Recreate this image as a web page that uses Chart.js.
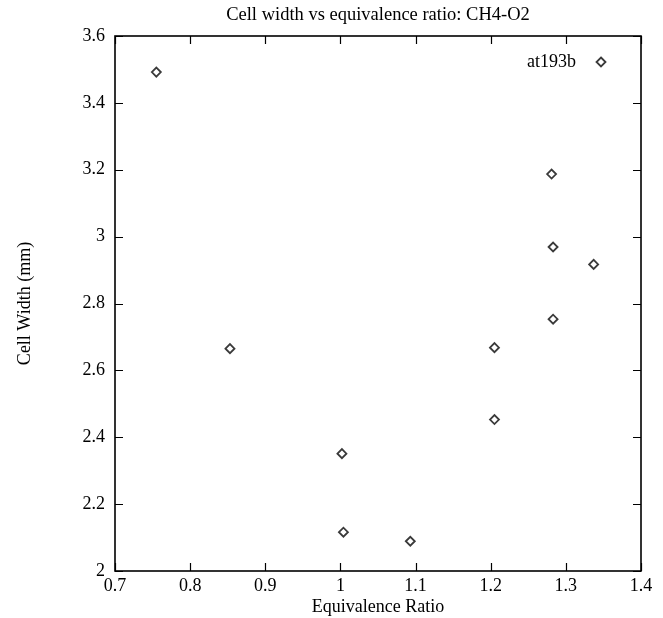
<!DOCTYPE html>
<html>
<head>
<meta charset="utf-8">
<title>Cell width vs equivalence ratio: CH4-O2</title>
<script src="https://cdn.jsdelivr.net/npm/chart.js@4/dist/chart.umd.min.js"></script>
<style>
    html, body { margin: 0; padding: 0; background: #fff; }
    #wrap { width: 663px; height: 618px; }
</style>
</head>
<body>
<div id="wrap"><canvas id="cellChart" width="663" height="618"></canvas></div>
<script>
const equivalenceRatio = [0.755, 0.853, 1.002, 1.004, 1.093, 1.205, 1.205, 1.281, 1.283, 1.283, 1.337];
const cellWidth = [3.492, 2.665, 2.351, 2.116, 2.089, 2.668, 2.453, 3.187, 2.969, 2.753, 2.917];
const seriesName = 'at193b';
const chartTitle = 'Cell width vs equivalence ratio: CH4-O2';
const xTicks = [0.7, 0.8, 0.9, 1.0, 1.1, 1.2, 1.3, 1.4];
const yTicks = [2.0, 2.2, 2.4, 2.6, 2.8, 3.0, 3.2, 3.4, 3.6];

const serif = '"Liberation Serif", "Times New Roman", serif';
const ink = '#000';
const markColor = '#3a3a3a';

function fmt(v) {
    return String(Math.round(v * 10) / 10);
}

// title centred over the plot box, like gnuplot does
const titlePlugin = {
    id: 'boxTitle',
    afterDraw(chart) {
        const { ctx, chartArea: a } = chart;
        ctx.save();
        ctx.font = '18.5px ' + serif;
        ctx.fillStyle = ink;
        ctx.textAlign = 'center';
        ctx.textBaseline = 'middle';
        ctx.fillText(chartTitle, (a.left + a.right) / 2, 15);
        ctx.restore();
    }
};

// gnuplot-like box with inward tick marks on all four sides
const framePlugin = {
    id: 'frame',
    beforeDatasetsDraw(chart) {
        const { ctx, chartArea: a, scales } = chart;
        const len = 8;
        ctx.save();
        ctx.strokeStyle = ink;
        ctx.lineWidth = 1.2;
        xTicks.forEach(function (v) {
            const px = Math.round(scales.x.getPixelForValue(v)) + 0.5;
            ctx.beginPath();
            ctx.moveTo(px, a.bottom); ctx.lineTo(px, a.bottom - len);
            ctx.moveTo(px, a.top); ctx.lineTo(px, a.top + len);
            ctx.stroke();
        });
        yTicks.forEach(function (v) {
            const py = Math.round(scales.y.getPixelForValue(v)) + 0.5;
            ctx.beginPath();
            ctx.moveTo(a.left, py); ctx.lineTo(a.left + len, py);
            ctx.moveTo(a.right, py); ctx.lineTo(a.right - len, py);
            ctx.stroke();
        });
        ctx.lineWidth = 1.6;
        ctx.strokeRect(a.left, a.top, a.right - a.left, a.bottom - a.top);
        ctx.restore();
    }
};

// key drawn inside the top right corner: label then marker
const keyPlugin = {
    id: 'key',
    afterDatasetsDraw(chart) {
        const { ctx, chartArea: a } = chart;
        const ds = chart.data.datasets[0];
        const r = ds.pointRadius;
        const mx = a.right - 40;
        const my = a.top + 26;
        ctx.save();
        ctx.font = '18px ' + serif;
        ctx.fillStyle = ink;
        ctx.textAlign = 'right';
        ctx.textBaseline = 'middle';
        ctx.fillText(ds.label, mx - 25, my);
        ctx.fillStyle = ds.backgroundColor;
        ctx.strokeStyle = ds.borderColor;
        ctx.lineWidth = ds.borderWidth;
        ctx.beginPath();
        ctx.moveTo(mx, my - r);
        ctx.lineTo(mx + r, my);
        ctx.lineTo(mx, my + r);
        ctx.lineTo(mx - r, my);
        ctx.closePath();
        ctx.fill();
        ctx.stroke();
        ctx.restore();
    }
};

const points = equivalenceRatio.map(function (x, i) {
    return { x: x, y: cellWidth[i] };
});

new Chart(document.getElementById('cellChart'), {
    type: 'scatter',
    data: {
        datasets: [{
            label: seriesName,
            data: points,
            pointStyle: 'rectRot',
            pointRadius: 4.5,
            pointHoverRadius: 4.5,
            borderWidth: 1.8,
            borderColor: markColor,
            backgroundColor: '#fff'
        }]
    },
    options: {
        responsive: false,
        animation: false,
        devicePixelRatio: 1,
        layout: { padding: { left: 0, right: 22, top: 36, bottom: 0 } },
        scales: {
            x: {
                type: 'linear',
                min: 0.7,
                max: 1.4,
                afterBuildTicks: function (axis) {
                    axis.ticks = xTicks.map(function (v) { return { value: v }; });
                },
                afterFit: function (axis) { axis.height = 47; },
                grid: { display: false, drawTicks: false },
                border: { display: false },
                ticks: {
                    color: ink,
                    padding: 4,
                    font: { family: serif, size: 18 },
                    maxRotation: 0,
                    callback: fmt
                },
                title: {
                    display: true,
                    text: 'Equivalence Ratio',
                    color: ink,
                    font: { family: serif, size: 18 },
                    padding: { top: 0, bottom: 0 }
                }
            },
            y: {
                type: 'linear',
                min: 2,
                max: 3.6,
                afterBuildTicks: function (axis) {
                    axis.ticks = yTicks.map(function (v) { return { value: v }; });
                },
                afterFit: function (axis) { axis.width = 115; },
                grid: { display: false, drawTicks: false },
                border: { display: false },
                ticks: {
                    color: ink,
                    padding: 10,
                    font: { family: serif, size: 18 },
                    callback: fmt
                },
                title: {
                    display: true,
                    text: 'Cell Width (mm)',
                    color: ink,
                    font: { family: serif, size: 18 },
                    padding: { top: 14, bottom: 0 }
                }
            }
        },
        plugins: {
            legend: { display: false },
            tooltip: { enabled: false },
            title: { display: false }
        }
    },
    plugins: [framePlugin, keyPlugin, titlePlugin]
});
</script>
</body>
</html>
